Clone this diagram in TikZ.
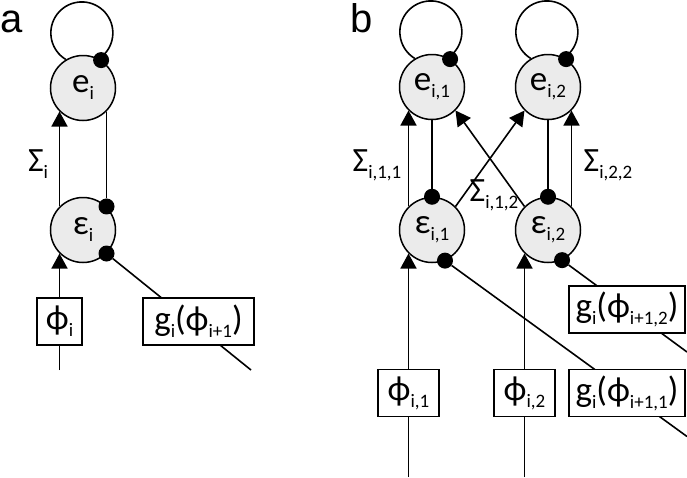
\documentclass[tikz,border=0pt]{standalone}
\usepackage{fontspec}
\setmainfont{Carlito}
\newfontfamily\panelfont{Liberation Sans}
\usetikzlibrary{arrows.meta,calc}
\definecolor{unitgray}{RGB}{235,235,235}
% subscript as set in the figure
\newcommand\sub[1]{\raisebox{-7pt}{\fontsize{19}{19}\selectfont #1}}
\tikzset{
    %Define standard arrow tip
    >={Triangle[length=15pt,width=16pt]},
    %Define style for units
    unit/.style={
           circle,
           draw,
           line width=1.5pt,
           fill=unitgray,
           minimum size=65pt,
           inner sep=0pt,
           font=\fontsize{35}{37}\selectfont},
    dot/.style={
           circle,
           fill=black,
           minimum size=16pt,
           inner sep=0pt},
    %Define style for boxes
    box/.style={
           rectangle,
           draw,
           line width=1.3pt,
           fill=white,
           minimum height=47pt,
           inner xsep=3pt,
           font=\fontsize{35}{37}\selectfont},
    lbl/.style={font=\fontsize{34}{36}\selectfont},
    panel/.style={anchor=base west, inner sep=0pt, font=\panelfont\fontsize{40}{42}\selectfont},
    % Define line styles
    pil/.style={
           ->,
           line width=1.6pt},
    lin/.style={line width=1.6pt}
}
\begin{document}
\begin{tikzpicture}[x=1pt, y=1pt]
 \useasboundingbox (0,0) rectangle (687,-477);

 % panel a
 \node [panel] (labela) at (0,-32) {a};
 \node [unit] (ei) at (83,-88) {e\sub{i}};
 \node [unit] (epsi) at (83,-230) {ε\sub{i}};
 \node [dot] (ei-d) at (ei.57) {};
 \node [dot] (epsi-d) at (epsi.45) {};
 \node [dot] (epsi-o) at (epsi.-45) {};
 \coordinate (phii-in) at (epsi.225 |- 0,-370);
 \coordinate (gi-out) at (251,-370);

 \draw [lin] (ei.121) arc[start angle=239, end angle=-59, radius=31];
 \draw [pil] (epsi.135) -- (ei.225);
 \draw [lin] (ei.315) -- (epsi-d);
 \draw [pil] (phii-in) -- (epsi.225);
 \draw [lin] (epsi-o) -- (gi-out);

 \node [lbl] (sigi) at (38,-164) {Σ\sub{i}};
 \node [box, minimum width=45pt] (phii) at (epsi.225 |- 0,-321.5) {ϕ\sub{i}};
 \node [box, minimum width=111pt] (gi) at (198.5,-321.5) {g\sub{i}(ϕ\sub{i+1})};

 % panel b
 \node [panel] (labelb) at (350,-32) {b};
 \node [unit] (e1) at (432,-87) {e\sub{i,1}};
 \node [unit] (e2) at (548,-87) {e\sub{i,2}};
 \node [unit] (eps1) at (432,-230) {ε\sub{i,1}};
 \node [unit] (eps2) at (548,-230) {ε\sub{i,2}};
 \node [dot] (e1-d) at (e1.57) {};
 \node [dot] (e2-d) at (e2.57) {};
 \node [dot] (eps1-d) at (eps1.north) {};
 \node [dot] (eps2-d) at (eps2.north) {};
 \node [dot] (eps1-o) at (eps1.-67) {};
 \node [dot] (eps2-o) at (eps2.-65) {};
 \coordinate (phi1-in) at (eps1.225 |- 0,-477);
 \coordinate (phi2-in) at (eps2.225 |- 0,-477);
 \coordinate (g1-out) at (687,-436.5);
 \coordinate (g2-out) at (687,-352);

 \draw [lin] (e1.121) arc[start angle=239, end angle=-59, radius=31];
 \draw [lin] (e2.121) arc[start angle=239, end angle=-59, radius=31];
 \draw [pil] (eps1.135) -- (e1.225);
 \draw [pil] (eps2.45) -- (e2.-45);
 \draw [pil] (eps1.45) -- (e2.225);
 \draw [pil] (eps2.135) -- (e1.-45);
 \draw [lin] (e1.south) -- (eps1-d);
 \draw [lin] (e2.south) -- (eps2-d);
 \draw [pil] (phi1-in) -- (eps1.225);
 \draw [pil] (phi2-in) -- (eps2.225);
 \draw [lin] (eps1-o) -- (g1-out);
 \draw [lin] (eps2-o) -- (g2-out);

 \node [lbl] (sig11) at (377,-165) {Σ\sub{i,1,1}};
 \node [lbl] (sig22) at (608,-165) {Σ\sub{i,2,2}};
 \node [lbl] (sig12) at (494,-195) {Σ\sub{i,1,2}};
 \node [box, minimum width=61pt] (phi1) at (eps1.225 |- 0,-393) {ϕ\sub{i,1}};
 \node [box, minimum width=61pt] (phi2) at (eps2.225 |- 0,-393) {ϕ\sub{i,2}};
 \node [box, minimum width=116pt] (g2) at (627,-309.5) {g\sub{i}(ϕ\sub{i+1,2})};
 \node [box, minimum width=116pt] (g1) at (627,-393) {g\sub{i}(ϕ\sub{i+1,1})};
\end{tikzpicture}
\end{document}
